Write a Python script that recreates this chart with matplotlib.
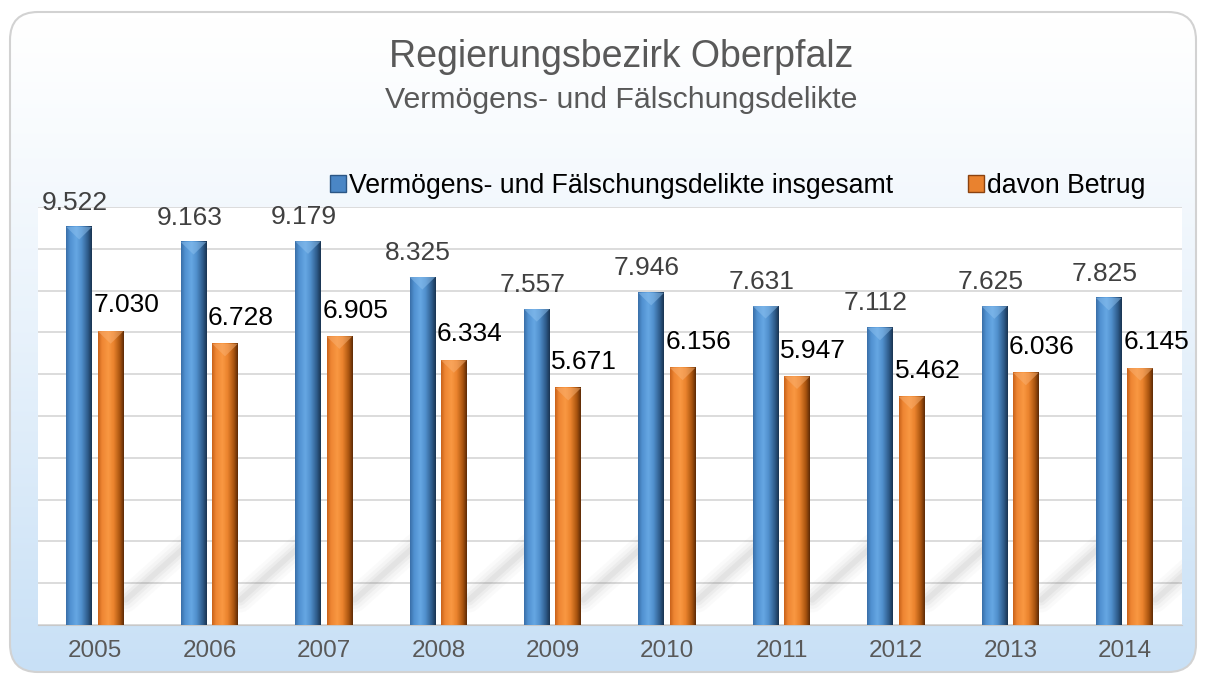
import numpy as np
import matplotlib
matplotlib.use('Agg')
import matplotlib.pyplot as plt
from matplotlib.patches import FancyBboxPatch, Patch, Polygon
from matplotlib.colors import LinearSegmentedColormap

plt.rcParams['font.family'] = ['Liberation Sans', 'DejaVu Sans']

# Daten
jahre = ['2005', '2006', '2007', '2008', '2009', '2010', '2011', '2012', '2013', '2014']
gesamt = [9522, 9163, 9179, 8325, 7557, 7946, 7631, 7112, 7625, 7825]
betrug = [7030, 6728, 6905, 6334, 5671, 6156, 5947, 5462, 6036, 6145]
serien = ['Vermögens- und Fälschungsdelikte insgesamt', 'davon Betrug']
titel = 'Regierungsbezirk Oberpfalz'
untertitel = 'Vermögens- und Fälschungsdelikte'


def fmt(v):
    return '{:,}'.format(v).replace(',', '.')


W, H = 1206, 675
fig = plt.figure(figsize=(W / 100, H / 100), dpi=100)

# Hintergrund mit abgerundetem Rahmen und Verlauf
bg = fig.add_axes([0, 0, 1, 1])
bg.set_xlim(0, W)
bg.set_ylim(H, 0)
bg.axis('off')
box = FancyBboxPatch((10, 12), 1186, 660, boxstyle='round,pad=0,rounding_size=28',
                     fc='none', ec='#d2d2d2', lw=1.5, zorder=3)
bg.add_patch(box)
t = np.linspace(0, 1, 256) ** 1.2
cm_bg = LinearSegmentedColormap.from_list('bg', ['#ffffff', '#c8e0f6'])
im = bg.imshow(t[:, None], extent=[10, 1196, 672, 12], cmap=cm_bg, aspect='auto',
               vmin=0, vmax=1, zorder=1)
im.set_clip_path(box)

# Diagramm
ax = fig.add_axes([38 / W, 1 - 625 / H, (1182 - 38) / W, (625 - 207) / H])
ax.set_facecolor('white')
x = np.arange(len(jahre))
bw = 0.225
b1 = ax.bar(x - 0.14, gesamt, bw, color='#4a86c5', zorder=3)
b2 = ax.bar(x + 0.135, betrug, bw, color='#e9822f', zorder=3)

cm_blau = LinearSegmentedColormap.from_list('blau', [
    (0, '#3a6fa8'), (0.15, '#5090d0'), (0.4, '#66a7e3'), (0.6, '#5190cd'),
    (0.85, '#2e5b8a'), (1, '#1a3452')])
cm_orange = LinearSegmentedColormap.from_list('orange', [
    (0, '#c9631a'), (0.15, '#ee8633'), (0.4, '#f99842'), (0.6, '#eb842e'),
    (0.85, '#a9540f'), (1, '#5e2b06')])
verlauf = np.linspace(0, 1, 64)[None, :]

for bars, cm, kappe in [(b1, cm_blau, '#8cc0ee'), (b2, cm_orange, '#f9b072')]:
    for b in bars:
        x0 = b.get_x()
        w = b.get_width()
        h = b.get_height()
        ax.imshow(verlauf, extent=[x0, x0 + w, 0, h], cmap=cm, aspect='auto', zorder=3.5)
        ax.add_patch(Polygon([(x0, h), (x0 + w, h), (x0 + w / 2, h - 300)],
                             closed=True, fc=kappe, ec='none', alpha=0.5, zorder=3.6))

# weiche Schatten
for b in b2:
    xs = b.get_x() + b.get_width()
    for lw, a in [(18, 0.03), (13, 0.04), (8, 0.06), (4, 0.07)]:
        ax.plot([xs + 0.02, xs + 0.55], [600, 1900], color='#707070', lw=lw, alpha=a,
                solid_capstyle='round', zorder=2)

for b, v in zip(b1, gesamt):
    ax.annotate(fmt(v), (b.get_x() + b.get_width() / 2, v), xytext=(-3, 12.5),
                textcoords='offset points', ha='center', va='baseline',
                fontsize=19, color='#404040', zorder=5)
for b, v in zip(b2, betrug):
    ax.annotate(fmt(v), (b.get_x() + b.get_width() / 2, v), xytext=(11.5, 13.5),
                textcoords='offset points', ha='center', va='baseline',
                fontsize=19, color='#000000', zorder=5)

ax.set_xlim(-0.5, len(jahre) - 0.5)
ax.set_ylim(0, 10000)
ax.set_yticks(np.arange(0, 10001, 1000))
ax.set_xticks(x, jahre)
ax.tick_params(axis='y', length=0, labelleft=False)
ax.tick_params(axis='x', length=0, labelsize=17.5, labelcolor='#595959', pad=11)
ax.grid(axis='y', color='#d9d9d9', lw=1.3)
ax.set_axisbelow(True)
for s in ['top', 'left', 'right']:
    ax.spines[s].set_visible(False)
ax.spines['bottom'].set_color('#c8c8c8')

# Legende
handles = [Patch(fc='#4a86c5', ec='#2b5685'), Patch(fc='#e9822f', ec='#8a4210')]
fig.legend(handles, serien, loc='center', bbox_to_anchor=(738 / W, 1 - 186 / H), ncol=2,
           frameon=False, fontsize=19.2, handlelength=0.6, handleheight=0.56,
           handletextpad=0.12, columnspacing=2.8, borderpad=0)

fig.text(621 / W, 1 - 67 / H, titel, ha='center', va='baseline', fontsize=27, color='#595959')
fig.text(621 / W, 1 - 108 / H, untertitel, ha='center', va='baseline', fontsize=21.8,
         color='#595959')

fig.savefig('out.png', dpi=100)
